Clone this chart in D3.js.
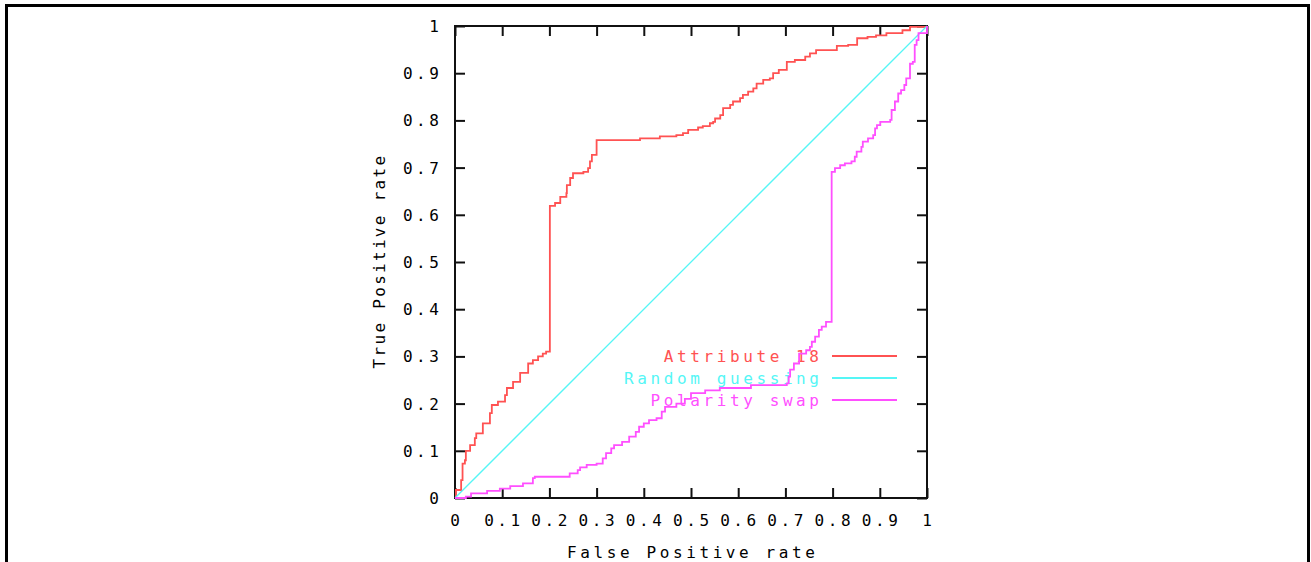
<!DOCTYPE html>
<html>
<head>
<meta charset="utf-8">
<script src="https://cdn.jsdelivr.net/npm/d3@7"></script>
<style>
    body { margin: 0; background: #fff; }
    text { font-family: "DejaVu Sans Mono", "Liberation Mono", monospace; font-size: 16px; }
</style>
</head>
<body>
<script>
// ROC data (false positive rate, true positive rate)
const attrFpr = [0, 0.002, 0.013, 0.016, 0.021, 0.023, 0.032, 0.042, 0.045, 0.059, 0.074, 0.078, 0.091, 0.106, 0.110, 0.123, 0.138, 0.155, 0.165, 0.176, 0.186, 0.193, 0.201,
    0.201, 0.212, 0.223, 0.236, 0.237, 0.244, 0.250, 0.272, 0.282, 0.286, 0.290, 0.300, 0.300, 0.378, 0.392, 0.434, 0.469, 0.483, 0.494, 0.515, 0.525, 0.540, 0.547,
    0.551, 0.562, 0.568, 0.583, 0.589, 0.604, 0.610, 0.621, 0.632, 0.639, 0.653, 0.667, 0.674, 0.686, 0.703, 0.720, 0.742, 0.752, 0.765, 0.809, 0.833, 0.852, 0.874,
    0.892, 0.914, 0.948, 0.964, 1];
const attrTpr = [0, 0.017, 0.038, 0.073, 0.080, 0.100, 0.112, 0.127, 0.137, 0.158, 0.180, 0.197, 0.204, 0.218, 0.233, 0.246, 0.265, 0.285, 0.292, 0.300, 0.306, 0.310, 0.310,
    0.619, 0.625, 0.638, 0.646, 0.663, 0.678, 0.688, 0.691, 0.699, 0.713, 0.727, 0.734, 0.758, 0.758, 0.762, 0.766, 0.769, 0.773, 0.780, 0.785, 0.788, 0.794, 0.797,
    0.804, 0.811, 0.826, 0.833, 0.840, 0.847, 0.854, 0.861, 0.868, 0.878, 0.886, 0.889, 0.900, 0.907, 0.924, 0.928, 0.935, 0.942, 0.949, 0.958, 0.960, 0.974, 0.977,
    0.980, 0.985, 0.991, 0.998, 1];

const swapFpr = [0, 0.023, 0.034, 0.068, 0.095, 0.117, 0.144, 0.165, 0.169, 0.239, 0.243, 0.260, 0.265, 0.279, 0.300, 0.313, 0.320, 0.331, 0.337, 0.354, 0.369, 0.383,
    0.390, 0.400, 0.411, 0.427, 0.438, 0.445, 0.469, 0.487, 0.500, 0.530, 0.561, 0.627, 0.703, 0.704, 0.707, 0.710, 0.718, 0.729, 0.744, 0.752, 0.756, 0.763, 0.771,
    0.777, 0.786, 0.798, 0.798, 0.805, 0.816, 0.826, 0.840, 0.847, 0.851, 0.861, 0.864, 0.875, 0.886, 0.890, 0.894, 0.901, 0.922, 0.925, 0.925, 0.932, 0.939, 0.939,
    0.945, 0.952, 0.956, 0.960, 0.964, 0.964, 0.970, 0.974, 0.978, 0.982, 1];
const swapTpr = [0, 0.003, 0.010, 0.015, 0.020, 0.025, 0.031, 0.042, 0.045, 0.045, 0.052, 0.059, 0.065, 0.070, 0.073, 0.084, 0.095, 0.105, 0.112, 0.119, 0.130, 0.140,
    0.151, 0.158, 0.165, 0.169, 0.183, 0.193, 0.200, 0.210, 0.222, 0.228, 0.233, 0.239, 0.243, 0.243, 0.257, 0.272, 0.285, 0.306, 0.313, 0.320, 0.331, 0.342, 0.356,
    0.363, 0.373, 0.384, 0.691, 0.699, 0.705, 0.709, 0.713, 0.723, 0.734, 0.744, 0.755, 0.762, 0.769, 0.783, 0.790, 0.797, 0.801, 0.808, 0.822, 0.840, 0.843, 0.857,
    0.864, 0.875, 0.889, 0.889, 0.903, 0.920, 0.924, 0.960, 0.970, 0.985, 1];

const guessFpr = [0, 1];
const guessTpr = [0, 1];

const tickValues = [0, 0.1, 0.2, 0.3, 0.4, 0.5, 0.6, 0.7, 0.8, 0.9, 1];
const tickLabels = ["0", "0.1", "0.2", "0.3", "0.4", "0.5", "0.6", "0.7", "0.8", "0.9", "1"];

const seriesNames  = ["Attribute 18", "Random guessing", "Polarity swap"];
const seriesColors = ["#ff5252", "#55f6f6", "#ff4fff"];

const width = 1311;
const height = 562;
const plot = {left: 455, right: 927, top: 26, bottom: 498};
const spacing = 3.6;

const svg = d3.select("body")
    .append("svg")
    .attr("width", width)
    .attr("height", height);

// outer frame, bottom edge falls outside the window
svg.append("rect")
    .attr("x", 6.5).attr("y", 5.5)
    .attr("width", 1302).attr("height", 620)
    .attr("fill", "none")
    .attr("stroke", "#000")
    .attr("stroke-width", 3);

const xScale = d3.scaleLinear().domain([0, 1]).range([plot.left, plot.right]);
const yScale = d3.scaleLinear().domain([0, 1]).range([plot.bottom, plot.top]);

const fmt = (d) => tickLabels[tickValues.indexOf(d)];

// ticks pointing inward on all four sides (gnuplot mirror tics)
svg.append("g")
    .attr("transform", `translate(0,${plot.bottom})`)
    .call(d3.axisTop(xScale).tickValues(tickValues).tickSize(10).tickFormat(""));
svg.append("g")
    .attr("transform", `translate(0,${plot.top})`)
    .call(d3.axisBottom(xScale).tickValues(tickValues).tickSize(10).tickFormat(""));
svg.append("g")
    .attr("transform", `translate(${plot.left},0)`)
    .call(d3.axisRight(yScale).tickValues(tickValues).tickSize(10).tickFormat(""));
svg.append("g")
    .attr("transform", `translate(${plot.right},0)`)
    .call(d3.axisLeft(yScale).tickValues(tickValues).tickSize(10).tickFormat(""));

svg.selectAll(".domain").remove();
svg.selectAll(".tick line").attr("stroke", "#111").attr("stroke-width", 2);

svg.append("rect")
    .attr("x", plot.left).attr("y", plot.top)
    .attr("width", plot.right - plot.left).attr("height", plot.bottom - plot.top)
    .attr("fill", "none")
    .attr("stroke", "#111")
    .attr("stroke-width", 2);

// tick labels
svg.append("g").selectAll("text")
    .data(tickValues)
    .join("text")
    .attr("x", (d) => xScale(d) + spacing / 2)
    .attr("y", 526)
    .attr("text-anchor", "middle")
    .attr("letter-spacing", spacing)
    .attr("fill", "#000")
    .text(fmt);

svg.append("g").selectAll("text")
    .data(tickValues)
    .join("text")
    .attr("x", 439 + spacing)
    .attr("y", (d) => yScale(d) + 6)
    .attr("text-anchor", "end")
    .attr("letter-spacing", spacing)
    .attr("fill", "#000")
    .text(fmt);

// axis titles
svg.append("text")
    .attr("x", 691 + spacing / 2)
    .attr("y", 558)
    .attr("text-anchor", "middle")
    .attr("letter-spacing", spacing)
    .text("False Positive rate");

svg.append("text")
    .attr("transform", `translate(385,${262 - 1}) rotate(-90)`)
    .attr("text-anchor", "middle")
    .attr("letter-spacing", 2.3)
    .text("True Positive rate");

// legend (drawn before curves, gnuplot paints the lines over it)
const legend = svg.append("g");
seriesNames.forEach((name, i) => {
    const y = 356 + i * 22;
    legend.append("text")
        .attr("x", 819 + spacing)
        .attr("y", y + 6)
        .attr("text-anchor", "end")
        .attr("letter-spacing", spacing)
        .attr("fill", seriesColors[i])
        .text(name);
    legend.append("line")
        .attr("x1", 832).attr("x2", 897)
        .attr("y1", y).attr("y2", y)
        .attr("stroke", seriesColors[i])
        .attr("stroke-width", 1.8);
});

const stepLine = d3.line()
    .x((d) => xScale(d[0]))
    .y((d) => yScale(d[1]))
    .curve(d3.curveStepAfter);
const straightLine = d3.line()
    .x((d) => xScale(d[0]))
    .y((d) => yScale(d[1]));

const series = [
    d3.zip(attrFpr, attrTpr),
    d3.zip(guessFpr, guessTpr),
    d3.zip(swapFpr, swapTpr)
];

series.forEach((pts, i) => {
    svg.append("path")
        .attr("d", i === 1 ? straightLine(pts) : stepLine(pts))
        .attr("fill", "none")
        .attr("stroke", seriesColors[i])
        .attr("stroke-width", i === 1 ? 1.3 : 1.8);
});
</script>
</body>
</html>
